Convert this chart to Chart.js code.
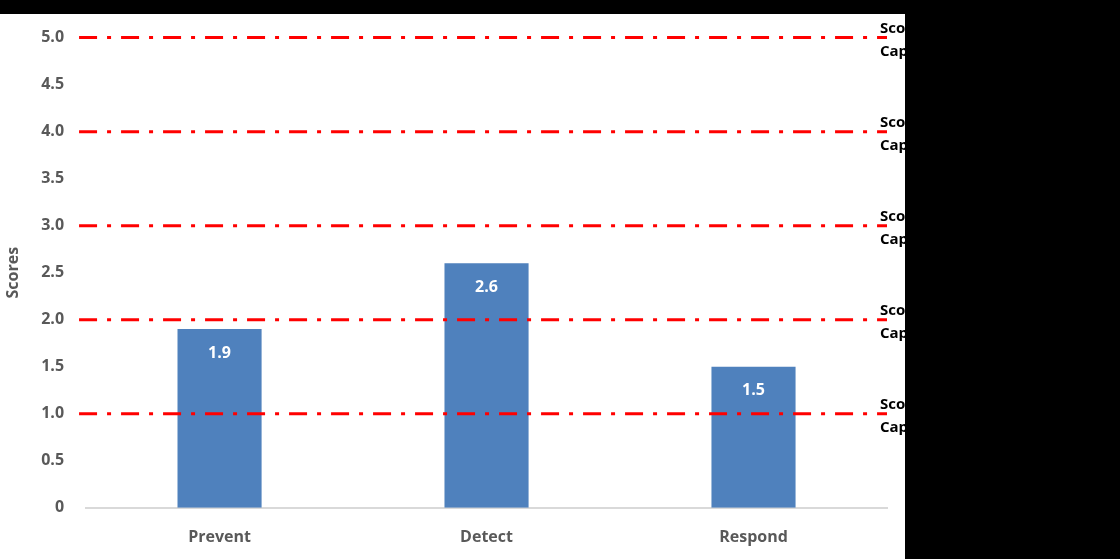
<!DOCTYPE html>
<html><head><script src="https://cdn.jsdelivr.net/npm/chart.js@4"></script>
<style>html,body{margin:0;padding:0;background:#000;width:1120px;height:559px;overflow:hidden}
#wrap{position:absolute;left:0;top:14px;width:905px;height:545px;background:#fff}</style></head>
<body><div id="wrap"><canvas id="c" width="905" height="545"></canvas></div>
<script>
const categories=['Prevent','Detect','Respond'];
const scores=[1.9,2.6,1.5];
const levels=[1,2,3,4,5];
const levelLabels=[['Score 1','Capability'],['Score 2','Capability'],['Score 3','Capability'],['Score 4','Capability'],['Score 5','Capability']];
const font="'Open Sans', sans-serif";
const linesPlugin={id:'lines',afterDatasetsDraw(ch){
 const c=ch.ctx,y=ch.scales.y,a=ch.chartArea;
 c.save();c.strokeStyle='#ff0000';c.lineWidth=3;c.setLineDash([18,10,4,10]);
 levels.forEach((v,i)=>{const py=y.getPixelForValue(v);
  c.beginPath();c.moveTo(a.left-7,py);c.lineTo(a.right,py);c.stroke();
  c.fillStyle='#000';c.font="bold 15px "+font;c.textBaseline='middle';
  c.fillText(levelLabels[i][0],a.right-7,py-9);c.fillText(levelLabels[i][1],a.right-7,py+14);});
 c.restore();}};
const barLabel={id:'bl',afterDatasetsDraw(ch){const c=ch.ctx;c.save();c.fillStyle='#fff';c.font="bold 16px "+font;c.textAlign='center';c.textBaseline='middle';
 ch.getDatasetMeta(0).data.forEach((b,i)=>c.fillText(scores[i].toFixed(1),b.x,b.y+24));c.restore();}};
new Chart(document.getElementById('c'),{type:'bar',
 data:{labels:categories,datasets:[{data:scores,backgroundColor:'#4f81bd',categoryPercentage:1,barPercentage:0.315}]},
 options:{responsive:false,animation:false,layout:{padding:{top:6,right:18,left:0,bottom:0}},
  plugins:{legend:{display:false},tooltip:{enabled:false}},
  scales:{y:{min:0,max:5,ticks:{stepSize:0.5,color:'#595959',font:{family:font,size:16,weight:'bold'},padding:14},
    grid:{display:false},border:{display:false},
    title:{display:true,text:'Scores',color:'#595959',font:{family:font,size:16,weight:'bold'}}},
   x:{grid:{display:false},border:{color:'#d9d9d9',width:2},ticks:{color:'#595959',font:{family:font,size:16,weight:'bold'},padding:12}}}},
 plugins:[linesPlugin,barLabel]});
</script></body></html>
